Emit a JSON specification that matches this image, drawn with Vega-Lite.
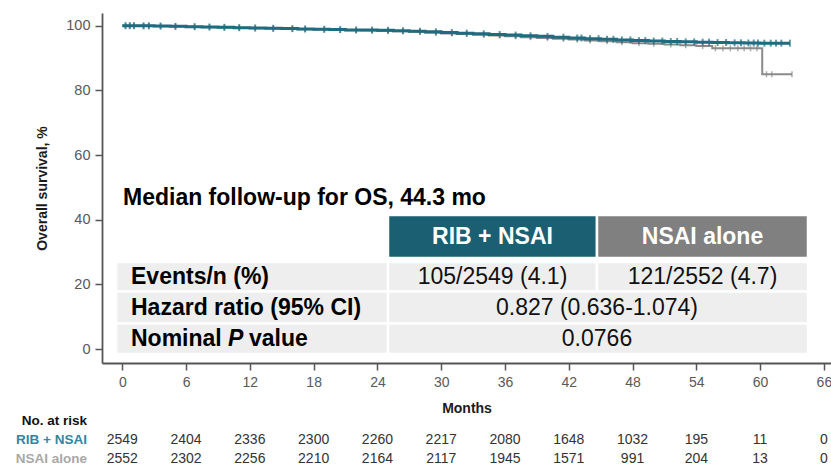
{
  "$schema": "https://vega.github.io/schema/vega-lite/v6.json",
  "width": 729,
  "height": 350,
  "autosize": {"type": "none"},
  "padding": {"left": 102, "top": 13, "right": 0, "bottom": 103},
  "background": "white",
  "config": {
    "view": {"stroke": null},
    "font": "Liberation Sans",
    "text": {"font": "Liberation Sans"},
    "axis": {"labelFont": "Liberation Sans", "titleFont": "Liberation Sans", "grid": false}
  },
  "datasets": {
    "km": [
      {"arm": "RIB + NSAI", "month": 0, "surv": 100},
      {"arm": "RIB + NSAI", "month": 1.5, "surv": 99.95},
      {"arm": "RIB + NSAI", "month": 3, "surv": 99.9},
      {"arm": "RIB + NSAI", "month": 4.5, "surv": 99.8},
      {"arm": "RIB + NSAI", "month": 6, "surv": 99.7},
      {"arm": "RIB + NSAI", "month": 7.5, "surv": 99.6},
      {"arm": "RIB + NSAI", "month": 9, "surv": 99.5},
      {"arm": "RIB + NSAI", "month": 10.5, "surv": 99.4},
      {"arm": "RIB + NSAI", "month": 12, "surv": 99.3},
      {"arm": "RIB + NSAI", "month": 13.5, "surv": 99.2},
      {"arm": "RIB + NSAI", "month": 15, "surv": 99.1},
      {"arm": "RIB + NSAI", "month": 16.5, "surv": 99.0},
      {"arm": "RIB + NSAI", "month": 18, "surv": 98.9},
      {"arm": "RIB + NSAI", "month": 19.5, "surv": 98.8},
      {"arm": "RIB + NSAI", "month": 21, "surv": 98.7},
      {"arm": "RIB + NSAI", "month": 22.5, "surv": 98.65},
      {"arm": "RIB + NSAI", "month": 24, "surv": 98.6},
      {"arm": "RIB + NSAI", "month": 25.5, "surv": 98.45},
      {"arm": "RIB + NSAI", "month": 27, "surv": 98.3},
      {"arm": "RIB + NSAI", "month": 28.5, "surv": 98.1},
      {"arm": "RIB + NSAI", "month": 30, "surv": 97.9},
      {"arm": "RIB + NSAI", "month": 31.5, "surv": 97.7},
      {"arm": "RIB + NSAI", "month": 33, "surv": 97.5},
      {"arm": "RIB + NSAI", "month": 34.5, "surv": 97.3},
      {"arm": "RIB + NSAI", "month": 36, "surv": 97.1},
      {"arm": "RIB + NSAI", "month": 37.5, "surv": 96.9},
      {"arm": "RIB + NSAI", "month": 39, "surv": 96.7},
      {"arm": "RIB + NSAI", "month": 40.5, "surv": 96.45},
      {"arm": "RIB + NSAI", "month": 42, "surv": 96.2},
      {"arm": "RIB + NSAI", "month": 43.5, "surv": 96.0},
      {"arm": "RIB + NSAI", "month": 45, "surv": 95.8},
      {"arm": "RIB + NSAI", "month": 46.5, "surv": 95.6},
      {"arm": "RIB + NSAI", "month": 48, "surv": 95.4},
      {"arm": "RIB + NSAI", "month": 49.5, "surv": 95.25},
      {"arm": "RIB + NSAI", "month": 51, "surv": 95.1},
      {"arm": "RIB + NSAI", "month": 52.5, "surv": 95.0},
      {"arm": "RIB + NSAI", "month": 54, "surv": 94.9},
      {"arm": "RIB + NSAI", "month": 55.5, "surv": 94.8},
      {"arm": "RIB + NSAI", "month": 57, "surv": 94.7},
      {"arm": "RIB + NSAI", "month": 58.5, "surv": 94.65},
      {"arm": "RIB + NSAI", "month": 60, "surv": 94.6},
      {"arm": "RIB + NSAI", "month": 62.8, "surv": 94.6},
      {"arm": "NSAI alone", "month": 0, "surv": 100},
      {"arm": "NSAI alone", "month": 1.5, "surv": 99.95},
      {"arm": "NSAI alone", "month": 3, "surv": 99.85},
      {"arm": "NSAI alone", "month": 4.5, "surv": 99.75},
      {"arm": "NSAI alone", "month": 6, "surv": 99.65},
      {"arm": "NSAI alone", "month": 7.5, "surv": 99.55},
      {"arm": "NSAI alone", "month": 9, "surv": 99.45},
      {"arm": "NSAI alone", "month": 10.5, "surv": 99.35},
      {"arm": "NSAI alone", "month": 12, "surv": 99.25},
      {"arm": "NSAI alone", "month": 13.5, "surv": 99.1},
      {"arm": "NSAI alone", "month": 15, "surv": 99.0},
      {"arm": "NSAI alone", "month": 16.5, "surv": 98.9},
      {"arm": "NSAI alone", "month": 18, "surv": 98.8},
      {"arm": "NSAI alone", "month": 19.5, "surv": 98.7},
      {"arm": "NSAI alone", "month": 21, "surv": 98.6},
      {"arm": "NSAI alone", "month": 22.5, "surv": 98.5},
      {"arm": "NSAI alone", "month": 24, "surv": 98.4},
      {"arm": "NSAI alone", "month": 25.5, "surv": 98.25},
      {"arm": "NSAI alone", "month": 27, "surv": 98.1},
      {"arm": "NSAI alone", "month": 28.5, "surv": 97.85},
      {"arm": "NSAI alone", "month": 30, "surv": 97.6},
      {"arm": "NSAI alone", "month": 31.5, "surv": 97.4},
      {"arm": "NSAI alone", "month": 33, "surv": 97.2},
      {"arm": "NSAI alone", "month": 34.5, "surv": 96.95},
      {"arm": "NSAI alone", "month": 36, "surv": 96.7},
      {"arm": "NSAI alone", "month": 37.5, "surv": 96.45},
      {"arm": "NSAI alone", "month": 39, "surv": 96.2},
      {"arm": "NSAI alone", "month": 40.5, "surv": 95.95},
      {"arm": "NSAI alone", "month": 42, "surv": 95.7},
      {"arm": "NSAI alone", "month": 43.5, "surv": 95.45},
      {"arm": "NSAI alone", "month": 45, "surv": 95.2},
      {"arm": "NSAI alone", "month": 46.5, "surv": 94.9},
      {"arm": "NSAI alone", "month": 48, "surv": 94.6},
      {"arm": "NSAI alone", "month": 49.5, "surv": 94.4},
      {"arm": "NSAI alone", "month": 51, "surv": 94.2},
      {"arm": "NSAI alone", "month": 52.5, "surv": 93.95},
      {"arm": "NSAI alone", "month": 54, "surv": 93.7},
      {"arm": "NSAI alone", "month": 55.5, "surv": 93.0},
      {"arm": "NSAI alone", "month": 60.2, "surv": 85.0},
      {"arm": "NSAI alone", "month": 63, "surv": 85.0}
    ],
    "censor": [
      {"arm": "RIB + NSAI", "month": 0.3, "surv": 100},
      {"arm": "RIB + NSAI", "month": 0.7, "surv": 100},
      {"arm": "RIB + NSAI", "month": 1.1, "surv": 100},
      {"arm": "RIB + NSAI", "month": 2.0, "surv": 99.95},
      {"arm": "RIB + NSAI", "month": 2.5, "surv": 99.95},
      {"arm": "RIB + NSAI", "month": 3.6, "surv": 99.9},
      {"arm": "RIB + NSAI", "month": 5.0, "surv": 99.8},
      {"arm": "RIB + NSAI", "month": 6.8, "surv": 99.7},
      {"arm": "RIB + NSAI", "month": 8.2, "surv": 99.6},
      {"arm": "RIB + NSAI", "month": 9.6, "surv": 99.5},
      {"arm": "RIB + NSAI", "month": 11.0, "surv": 99.4},
      {"arm": "RIB + NSAI", "month": 12.5, "surv": 99.3},
      {"arm": "RIB + NSAI", "month": 14.2, "surv": 99.2},
      {"arm": "RIB + NSAI", "month": 16.0, "surv": 99.1},
      {"arm": "RIB + NSAI", "month": 17.2, "surv": 99.0},
      {"arm": "RIB + NSAI", "month": 19.0, "surv": 98.9},
      {"arm": "RIB + NSAI", "month": 20.5, "surv": 98.8},
      {"arm": "RIB + NSAI", "month": 22.0, "surv": 98.7},
      {"arm": "RIB + NSAI", "month": 23.5, "surv": 98.65},
      {"arm": "RIB + NSAI", "month": 25.0, "surv": 98.6},
      {"arm": "RIB + NSAI", "month": 26.4, "surv": 98.45},
      {"arm": "RIB + NSAI", "month": 28.0, "surv": 98.3},
      {"arm": "RIB + NSAI", "month": 29.5, "surv": 98.1},
      {"arm": "RIB + NSAI", "month": 31.0, "surv": 97.9},
      {"arm": "RIB + NSAI", "month": 32.4, "surv": 97.7},
      {"arm": "RIB + NSAI", "month": 34.0, "surv": 97.5},
      {"arm": "RIB + NSAI", "month": 35.5, "surv": 97.3},
      {"arm": "RIB + NSAI", "month": 37.0, "surv": 97.1},
      {"arm": "RIB + NSAI", "month": 38.4, "surv": 96.9},
      {"arm": "RIB + NSAI", "month": 40.0, "surv": 96.7},
      {"arm": "RIB + NSAI", "month": 41.5, "surv": 96.45},
      {"arm": "RIB + NSAI", "month": 42.8, "surv": 96.2},
      {"arm": "RIB + NSAI", "month": 43.2, "surv": 96.2},
      {"arm": "RIB + NSAI", "month": 44.0, "surv": 96.0},
      {"arm": "RIB + NSAI", "month": 44.8, "surv": 96.0},
      {"arm": "RIB + NSAI", "month": 45.6, "surv": 95.8},
      {"arm": "RIB + NSAI", "month": 46.2, "surv": 95.8},
      {"arm": "RIB + NSAI", "month": 47.0, "surv": 95.6},
      {"arm": "RIB + NSAI", "month": 47.8, "surv": 95.6},
      {"arm": "RIB + NSAI", "month": 48.6, "surv": 95.4},
      {"arm": "RIB + NSAI", "month": 49.2, "surv": 95.4},
      {"arm": "RIB + NSAI", "month": 50.0, "surv": 95.25},
      {"arm": "RIB + NSAI", "month": 50.8, "surv": 95.25},
      {"arm": "RIB + NSAI", "month": 51.6, "surv": 95.1},
      {"arm": "RIB + NSAI", "month": 52.2, "surv": 95.1},
      {"arm": "RIB + NSAI", "month": 53.0, "surv": 95.0},
      {"arm": "RIB + NSAI", "month": 53.8, "surv": 95.0},
      {"arm": "RIB + NSAI", "month": 54.6, "surv": 94.9},
      {"arm": "RIB + NSAI", "month": 55.2, "surv": 94.9},
      {"arm": "RIB + NSAI", "month": 56.0, "surv": 94.8},
      {"arm": "RIB + NSAI", "month": 56.8, "surv": 94.8},
      {"arm": "RIB + NSAI", "month": 57.6, "surv": 94.7},
      {"arm": "RIB + NSAI", "month": 58.2, "surv": 94.7},
      {"arm": "RIB + NSAI", "month": 58.9, "surv": 94.65},
      {"arm": "RIB + NSAI", "month": 59.4, "surv": 94.65},
      {"arm": "RIB + NSAI", "month": 59.8, "surv": 94.65},
      {"arm": "RIB + NSAI", "month": 60.4, "surv": 94.6},
      {"arm": "RIB + NSAI", "month": 61.0, "surv": 94.6},
      {"arm": "RIB + NSAI", "month": 61.5, "surv": 94.6},
      {"arm": "RIB + NSAI", "month": 62.0, "surv": 94.6},
      {"arm": "RIB + NSAI", "month": 62.8, "surv": 94.6},
      {"arm": "NSAI alone", "month": 0.3, "surv": 100},
      {"arm": "NSAI alone", "month": 0.7, "surv": 100},
      {"arm": "NSAI alone", "month": 1.1, "surv": 100},
      {"arm": "NSAI alone", "month": 2.0, "surv": 99.95},
      {"arm": "NSAI alone", "month": 2.5, "surv": 99.95},
      {"arm": "NSAI alone", "month": 3.6, "surv": 99.85},
      {"arm": "NSAI alone", "month": 5.0, "surv": 99.75},
      {"arm": "NSAI alone", "month": 6.8, "surv": 99.65},
      {"arm": "NSAI alone", "month": 8.2, "surv": 99.55},
      {"arm": "NSAI alone", "month": 9.6, "surv": 99.45},
      {"arm": "NSAI alone", "month": 11.0, "surv": 99.35},
      {"arm": "NSAI alone", "month": 12.5, "surv": 99.25},
      {"arm": "NSAI alone", "month": 14.2, "surv": 99.1},
      {"arm": "NSAI alone", "month": 16.0, "surv": 99.0},
      {"arm": "NSAI alone", "month": 17.2, "surv": 98.9},
      {"arm": "NSAI alone", "month": 19.0, "surv": 98.8},
      {"arm": "NSAI alone", "month": 20.5, "surv": 98.7},
      {"arm": "NSAI alone", "month": 22.0, "surv": 98.6},
      {"arm": "NSAI alone", "month": 23.5, "surv": 98.5},
      {"arm": "NSAI alone", "month": 25.0, "surv": 98.4},
      {"arm": "NSAI alone", "month": 26.4, "surv": 98.25},
      {"arm": "NSAI alone", "month": 28.0, "surv": 98.1},
      {"arm": "NSAI alone", "month": 29.5, "surv": 97.85},
      {"arm": "NSAI alone", "month": 31.0, "surv": 97.6},
      {"arm": "NSAI alone", "month": 32.4, "surv": 97.4},
      {"arm": "NSAI alone", "month": 34.0, "surv": 97.2},
      {"arm": "NSAI alone", "month": 35.5, "surv": 96.95},
      {"arm": "NSAI alone", "month": 37.0, "surv": 96.7},
      {"arm": "NSAI alone", "month": 38.4, "surv": 96.45},
      {"arm": "NSAI alone", "month": 40.0, "surv": 96.2},
      {"arm": "NSAI alone", "month": 41.5, "surv": 95.95},
      {"arm": "NSAI alone", "month": 42.8, "surv": 95.7},
      {"arm": "NSAI alone", "month": 44.0, "surv": 95.45},
      {"arm": "NSAI alone", "month": 45.6, "surv": 95.2},
      {"arm": "NSAI alone", "month": 47.0, "surv": 94.9},
      {"arm": "NSAI alone", "month": 48.6, "surv": 94.6},
      {"arm": "NSAI alone", "month": 50.0, "surv": 94.4},
      {"arm": "NSAI alone", "month": 51.6, "surv": 94.2},
      {"arm": "NSAI alone", "month": 53.0, "surv": 93.95},
      {"arm": "NSAI alone", "month": 54.6, "surv": 93.7},
      {"arm": "NSAI alone", "month": 55.8, "surv": 93.0},
      {"arm": "NSAI alone", "month": 56.5, "surv": 93.0},
      {"arm": "NSAI alone", "month": 57.2, "surv": 93.0},
      {"arm": "NSAI alone", "month": 57.9, "surv": 93.0},
      {"arm": "NSAI alone", "month": 58.5, "surv": 93.0},
      {"arm": "NSAI alone", "month": 59.1, "surv": 93.0},
      {"arm": "NSAI alone", "month": 59.7, "surv": 93.0},
      {"arm": "NSAI alone", "month": 60.6, "surv": 85.0},
      {"arm": "NSAI alone", "month": 61.1, "surv": 85.0},
      {"arm": "NSAI alone", "month": 63.0, "surv": 85.0}
    ],
    "cells": [
      {"c0": 1, "c1": 2, "r0": 0, "r1": 1, "kind": "teal"},
      {"c0": 2, "c1": 3, "r0": 0, "r1": 1, "kind": "gray"},
      {"c0": 0, "c1": 1, "r0": 2, "r1": 3, "kind": "body"},
      {"c0": 1, "c1": 2, "r0": 2, "r1": 3, "kind": "body"},
      {"c0": 2, "c1": 3, "r0": 2, "r1": 3, "kind": "body"},
      {"c0": 0, "c1": 1, "r0": 3, "r1": 4, "kind": "body"},
      {"c0": 1, "c1": 3, "r0": 3, "r1": 4, "kind": "body"},
      {"c0": 0, "c1": 1, "r0": 4, "r1": 5, "kind": "body"},
      {"c0": 1, "c1": 3, "r0": 4, "r1": 5, "kind": "body"}
    ],
    "cellText": [
      {"txt": "Median follow-up for OS, 44.3 mo", "c": 0, "r": -0.5, "sty": "title"},
      {"txt": "RIB + NSAI", "c": 1.5, "r": 0.5, "sty": "header"},
      {"txt": "NSAI alone", "c": 2.5, "r": 0.5, "sty": "header"},
      {"txt": "Events/n (%)", "c": 0, "r": 2.5, "sty": "label"},
      {"txt": "Hazard ratio (95% CI)", "c": 0, "r": 3.5, "sty": "label"},
      {"txt": "Nominal", "c": 0, "r": 4.5, "sty": "label"},
      {"txt": "P", "c": 0, "r": 4.5, "sty": "italic"},
      {"txt": "value", "c": 0, "r": 4.5, "sty": "labelcont"},
      {"txt": "105/2549 (4.1)", "c": 1.5, "r": 2.5, "sty": "value"},
      {"txt": "121/2552 (4.7)", "c": 2.5, "r": 2.5, "sty": "value"},
      {"txt": "0.827 (0.636-1.074)", "c": 2, "r": 3.5, "sty": "value"},
      {"txt": "0.0766", "c": 2, "r": 4.5, "sty": "value"}
    ],
    "risk": [
      {"arm": "RIB + NSAI", "month": 0, "n": 2549},
      {"arm": "RIB + NSAI", "month": 6, "n": 2404},
      {"arm": "RIB + NSAI", "month": 12, "n": 2336},
      {"arm": "RIB + NSAI", "month": 18, "n": 2300},
      {"arm": "RIB + NSAI", "month": 24, "n": 2260},
      {"arm": "RIB + NSAI", "month": 30, "n": 2217},
      {"arm": "RIB + NSAI", "month": 36, "n": 2080},
      {"arm": "RIB + NSAI", "month": 42, "n": 1648},
      {"arm": "RIB + NSAI", "month": 48, "n": 1032},
      {"arm": "RIB + NSAI", "month": 54, "n": 195},
      {"arm": "RIB + NSAI", "month": 60, "n": 11},
      {"arm": "RIB + NSAI", "month": 66, "n": 0},
      {"arm": "NSAI alone", "month": 0, "n": 2552},
      {"arm": "NSAI alone", "month": 6, "n": 2302},
      {"arm": "NSAI alone", "month": 12, "n": 2256},
      {"arm": "NSAI alone", "month": 18, "n": 2210},
      {"arm": "NSAI alone", "month": 24, "n": 2164},
      {"arm": "NSAI alone", "month": 30, "n": 2117},
      {"arm": "NSAI alone", "month": 36, "n": 1945},
      {"arm": "NSAI alone", "month": 42, "n": 1571},
      {"arm": "NSAI alone", "month": 48, "n": 991},
      {"arm": "NSAI alone", "month": 54, "n": 204},
      {"arm": "NSAI alone", "month": 60, "n": 13},
      {"arm": "NSAI alone", "month": 66, "n": 0}
    ],
    "riskLabels": [
      {"arm": "No. at risk"},
      {"arm": "RIB + NSAI"},
      {"arm": "NSAI alone"}
    ]
  },
  "layer": [
    {
      "encoding": {
        "x": {
          "field": "month", "type": "quantitative",
          "scale": {"domain": [-1.91, 66.67], "nice": false, "zero": false},
          "axis": {
            "values": [0, 6, 12, 18, 24, 30, 36, 42, 48, 54, 60, 66],
            "title": "Months", "titleFontSize": 14, "titleFontWeight": "bold", "titleColor": "#1a1a1a",
            "labelFontSize": 14, "labelColor": "#595959", "labelFlush": false, "labelOverlap": false,
            "labelPadding": 5, "tickSize": 7, "tickWidth": 1.5, "tickColor": "#555555",
            "domainColor": "#555555", "domainWidth": 1.8, "titlePadding": 12
          }
        },
        "y": {
          "field": "surv", "type": "quantitative",
          "scale": {"domain": [-4.33, 103.93], "nice": false, "zero": false},
          "axis": {
            "values": [0, 20, 40, 60, 80, 100],
            "title": "Overall survival, %", "titleFontSize": 14, "titleFontWeight": "bold", "titleColor": "#1a1a1a",
            "labelFontSize": 14.5, "labelColor": "#595959", "labelPadding": 5, "tickSize": 7, "tickWidth": 1.5,
            "tickColor": "#555555", "domainColor": "#555555", "domainWidth": 1.8, "titlePadding": 16
          }
        }
      },
      "layer": [
        {
          "data": {"name": "km"},
          "transform": [{"filter": "datum.arm === 'NSAI alone'"}],
          "mark": {"type": "line", "interpolate": "step-after", "color": "#8a8a8a", "strokeWidth": 2}
        },
        {
          "data": {"name": "censor"},
          "transform": [{"filter": "datum.arm === 'NSAI alone'"}],
          "mark": {"type": "tick", "orient": "vertical", "color": "#8a8a8a", "size": 6, "thickness": 1.5}
        },
        {
          "data": {"name": "km"},
          "transform": [{"filter": "datum.arm === 'RIB + NSAI'"}],
          "mark": {"type": "line", "interpolate": "step-after", "color": "#1f6b80", "strokeWidth": 3}
        },
        {
          "data": {"name": "censor"},
          "transform": [{"filter": "datum.arm === 'RIB + NSAI'"}],
          "mark": {"type": "tick", "orient": "vertical", "color": "#1f6b80", "size": 7, "thickness": 2}
        }
      ]
    },
    {
      "layer": [
        {
          "data": {"name": "cells"},
          "mark": {"type": "rect", "stroke": "white", "strokeWidth": 2.5},
          "encoding": {
            "x": {"field": "c0", "type": "quantitative", "scale": {"domain": [0, 1, 2, 3], "range": [14, 286, 495, 706], "nice": false, "zero": false}, "axis": null},
            "x2": {"field": "c1"},
            "y": {"field": "r0", "type": "quantitative", "scale": {"domain": [-1, 0, 1, 2, 3, 4, 5], "range": [168, 202, 245, 249, 278.5, 310.5, 341], "nice": false, "zero": false}, "axis": null},
            "y2": {"field": "r1"},
            "fill": {"field": "kind", "type": "nominal", "scale": {"domain": ["teal", "gray", "body"], "range": ["#1a5f72", "#808080", "#eeeeee"]}, "legend": null}
          }
        },
        {
          "data": {"name": "cellText"},
          "transform": [{"filter": "datum.sty === 'title'"}],
          "mark": {"type": "text", "align": "left", "baseline": "middle", "dx": 7, "fontSize": 23, "fontWeight": "bold", "color": "#000000"},
          "encoding": {
            "x": {"field": "c", "type": "quantitative", "axis": null},
            "y": {"field": "r", "type": "quantitative", "axis": null},
            "text": {"field": "txt"}
          }
        },
        {
          "data": {"name": "cellText"},
          "transform": [{"filter": "datum.sty === 'header'"}],
          "mark": {"type": "text", "align": "center", "baseline": "middle", "fontSize": 23, "fontWeight": "bold", "color": "#ffffff"},
          "encoding": {
            "x": {"field": "c", "type": "quantitative", "axis": null},
            "y": {"field": "r", "type": "quantitative", "axis": null},
            "text": {"field": "txt"}
          }
        },
        {
          "data": {"name": "cellText"},
          "transform": [{"filter": "datum.sty === 'label'"}],
          "mark": {"type": "text", "align": "left", "baseline": "middle", "dx": 15, "fontSize": 23, "fontWeight": "bold", "color": "#000000"},
          "encoding": {
            "x": {"field": "c", "type": "quantitative", "axis": null},
            "y": {"field": "r", "type": "quantitative", "axis": null},
            "text": {"field": "txt"}
          }
        },
        {
          "data": {"name": "cellText"},
          "transform": [{"filter": "datum.sty === 'italic'"}],
          "mark": {"type": "text", "align": "left", "baseline": "middle", "dx": 112, "fontSize": 23, "fontWeight": "bold", "fontStyle": "italic", "color": "#000000"},
          "encoding": {
            "x": {"field": "c", "type": "quantitative", "axis": null},
            "y": {"field": "r", "type": "quantitative", "axis": null},
            "text": {"field": "txt"}
          }
        },
        {
          "data": {"name": "cellText"},
          "transform": [{"filter": "datum.sty === 'labelcont'"}],
          "mark": {"type": "text", "align": "left", "baseline": "middle", "dx": 133, "fontSize": 23, "fontWeight": "bold", "color": "#000000"},
          "encoding": {
            "x": {"field": "c", "type": "quantitative", "axis": null},
            "y": {"field": "r", "type": "quantitative", "axis": null},
            "text": {"field": "txt"}
          }
        },
        {
          "data": {"name": "cellText"},
          "transform": [{"filter": "datum.sty === 'value'"}],
          "mark": {"type": "text", "align": "center", "baseline": "middle", "fontSize": 23, "color": "#111111"},
          "encoding": {
            "x": {"field": "c", "type": "quantitative", "axis": null},
            "y": {"field": "r", "type": "quantitative", "axis": null},
            "text": {"field": "txt"}
          }
        }
      ]
    },
    {
      "layer": [
        {
          "data": {"name": "risk"},
          "mark": {"type": "text", "align": "center", "baseline": "middle", "fontSize": 14, "color": "#333333"},
          "encoding": {
            "x": {"field": "month", "type": "quantitative", "scale": {"domain": [-1.91, 66.67], "nice": false, "zero": false}, "axis": null},
            "y": {"field": "arm", "type": "nominal", "scale": {"type": "point", "domain": ["No. at risk", "RIB + NSAI", "NSAI alone"], "range": [408, 446], "padding": 0}, "axis": null},
            "text": {"field": "n", "type": "quantitative"}
          }
        },
        {
          "data": {"name": "riskLabels"},
          "mark": {"type": "text", "align": "right", "baseline": "middle", "fontSize": 13.5, "fontWeight": "bold"},
          "encoding": {
            "x": {"datum": -3.32, "type": "quantitative"},
            "y": {"field": "arm", "type": "nominal", "axis": null},
            "text": {"field": "arm"},
            "color": {"field": "arm", "type": "nominal", "scale": {"domain": ["No. at risk", "RIB + NSAI", "NSAI alone"], "range": ["#111111", "#2f86a3", "#a8a8a8"]}, "legend": null}
          }
        }
      ]
    }
  ],
  "resolve": {"scale": {"x": "independent", "y": "independent", "color": "independent", "fill": "independent"}}
}
